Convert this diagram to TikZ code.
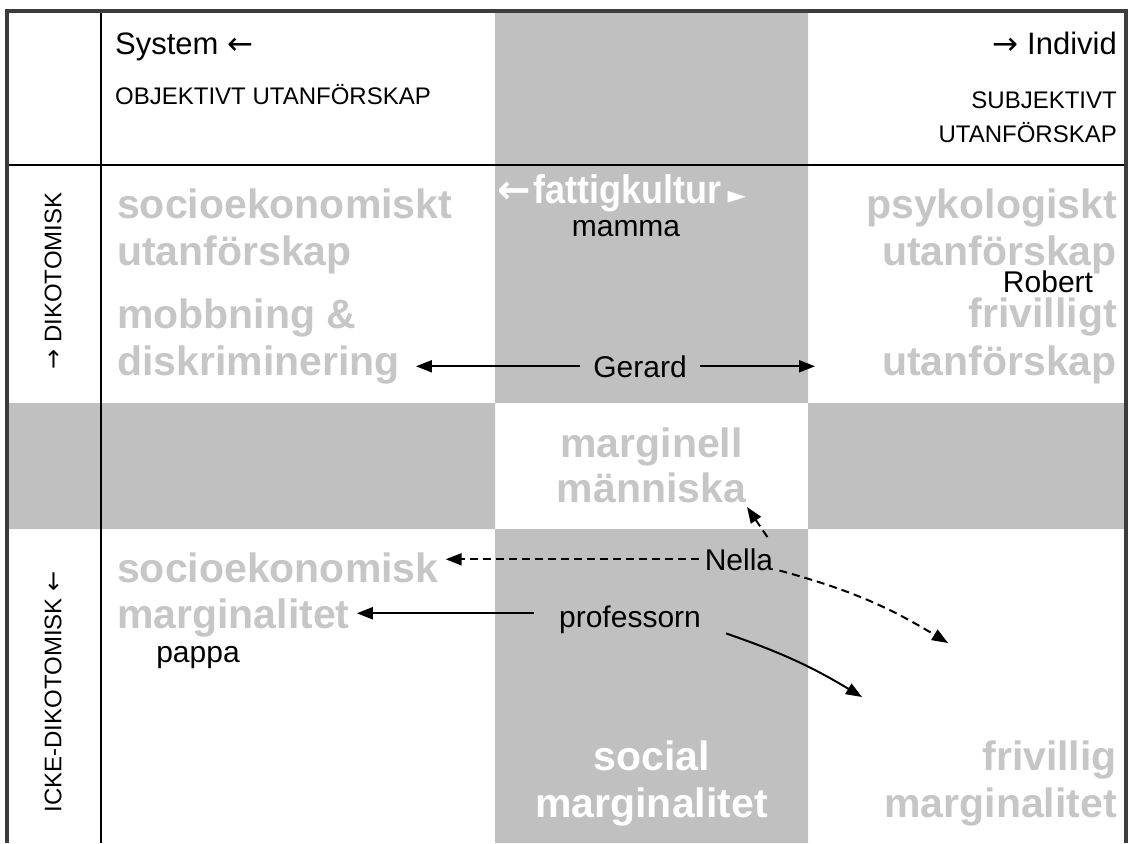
\documentclass[tikz,border=0pt]{standalone}
\usepackage{fontspec}
\setmainfont{Liberation Sans}
\newfontfamily\narrowfont[FakeStretch=0.9]{Liberation Sans}
\newfontfamily\arrowfont{DejaVu Sans}
\usetikzlibrary{arrows.meta}
\definecolor{fillgray}{RGB}{192,192,192}
\definecolor{txtgray}{RGB}{198,198,198}
\definecolor{framegray}{RGB}{60,60,60}
\newcommand{\pil}[1]{{\arrowfont #1}}
\tikzset{
	bigtxt/.style={font=\fontsize{41}{47}\selectfont\bfseries, text=txtgray, inner sep=0pt},
	whotxt/.style={font=\fontsize{30}{30}\selectfont, inner ysep=0pt},
	hdrtxt/.style={font=\fontsize{31}{31}\selectfont, inner sep=0pt},
	capstxt/.style={font=\fontsize{24}{24}\selectfont, inner sep=0pt},
	arr/.style={line width=2pt, -{Triangle[length=16pt,width=12pt]}},
	darr/.style={arr, dash pattern=on 8pt off 5pt}
}
\begin{document}
\begin{tikzpicture}[x=1pt,y=-1pt]
		\def\xleft{7} \def\xline{101} \def\colL{495} \def\colR{808} \def\xright{1126} % spalter
		\def\ytop{11} \def\yhead{165} \def\bandT{403} \def\bandB{529} \def\ybot{843}
		\fill[white] (0,0) rectangle (1131,843);
		\useasboundingbox (0,0) rectangle (1131,843);
		\fill[fillgray] (\colL,\ytop) rectangle (\colR,\bandT) (\colL,\bandB) rectangle (\colR,\ybot);
		\fill[fillgray] (\xleft,\bandT) rectangle (\colL,\bandB) (\colR,\bandT) rectangle (\xright,\bandB);
		\draw[line width=1.6pt] (\xline,\ytop)--(\xline,\ybot) (\xleft,\yhead)--(\xright,\yhead);
		\draw[framegray,line width=3.5pt] (\xleft,\ybot)--(\xleft,\ytop)--(\xright,\ytop)--(\xright,\ybot);
		% rubriker
		\node[hdrtxt,anchor=base west] (sys) at (115,55) {System \pil{←}};
		\node[capstxt,anchor=base west] (obj) at (115,104) {OBJEKTIVT UTANFÖRSKAP};
		\node[hdrtxt,anchor=base east] (ind) at (1117,55) {\pil{→} Individ};
		\node[capstxt,anchor=base east] (subA) at (1117,108) {SUBJEKTIVT};
		\node[capstxt,anchor=base east] (subB) at (1117,142) {UTANFÖRSKAP};
		\node[capstxt,rotate=90] (dik) at (53,281) {\pil{→} DIKOTOMISK};
		\node[capstxt,rotate=90] (icke) at (53,692) {ICKE-DIKOTOMISK \pil{←}};
		% begrepp
		\node[bigtxt,anchor=base west] (lSocA) at (117,218) {socioekonomiskt};
		\node[bigtxt,anchor=base west] (lSocB) at (117,265) {utanförskap};
		\node[bigtxt,anchor=base west] (lMob) at (117,328) {mobbning \&};
		\node[bigtxt,anchor=base west] (lDisk) at (117,375) {diskriminering};
		\node[bigtxt,anchor=base east] (rPsyA) at (1117,218) {psykologiskt};
		\node[bigtxt,anchor=base east] (rPsyB) at (1117,265) {utanförskap};
		\node[bigtxt,anchor=base east] (rFriA) at (1117,327) {frivilligt};
		\node[bigtxt,anchor=base east] (rFriB) at (1117,375) {utanförskap};
		\node[bigtxt,text=white,anchor=base west,font=\fontsize{40}{40}\selectfont\narrowfont\bfseries] (fattig) at (497,203) {{\fontsize{40}{40}\selectfont\pil{\bfseries ←}}\kern3pt fattigkultur\kern6pt{\fontsize{24}{24}\selectfont\pil{►}}};
		\node[bigtxt,anchor=base] (mMarg) at (651.5,457) {marginell};
		\node[bigtxt,anchor=base] (mMann) at (651.5,502) {människa};
		\node[bigtxt,anchor=base west] (lMsoc) at (117,582) {socioekonomisk};
		\node[bigtxt,anchor=base west] (lMarg) at (117,628) {marginalitet};
		\node[bigtxt,text=white,anchor=base] (sSoc) at (651.5,770) {social};
		\node[bigtxt,text=white,anchor=base] (sMarg) at (651.5,817) {marginalitet};
		\node[bigtxt,anchor=base east] (fFri) at (1117,770) {frivillig};
		\node[bigtxt,anchor=base east] (fMarg) at (1117,817) {marginalitet};
		% personer
		\node[whotxt,anchor=base] (mamma) at (626,236) {mamma};
		\node[whotxt,anchor=base] (robert) at (1048,292) {Robert};
		\node[whotxt,anchor=base,inner xsep=13pt] (gerard) at (640,377) {Gerard};
		\node[whotxt,anchor=base,inner xsep=6pt] (nella) at (739,570) {Nella};
		\node[whotxt,anchor=base,inner xsep=25pt] (prof) at (630,627) {professorn};
		\node[whotxt,anchor=base] (pappa) at (198,662) {pappa};
		\coordinate (gRight) at (815,368);
		\coordinate (nUp) at (747,507);
		\coordinate (nRight) at (948,643);
		\coordinate (pRight) at (862,697);
		\draw[arr,shorten >=16pt] (gerard.west) -- (gerard.west -| lDisk.east);
		\draw[arr] (gerard.east) -- (gerard.east -| gRight);
		\draw[darr,shorten >=7pt] (nella.west) -- (nella.west -| lMsoc.east);
		\draw[darr] ([xshift=-12pt,yshift=11pt]nella.north east) -- (nUp);
		\draw[darr] (nella.south east) to[bend left=8] (nRight);
		\draw[arr,shorten >=7pt] ([yshift=6pt]prof.west) -- ([yshift=6pt]prof.west -| lMarg.east);
		\draw[arr] (prof.south east) to[bend left=6] (pRight);
\end{tikzpicture}
\end{document}
